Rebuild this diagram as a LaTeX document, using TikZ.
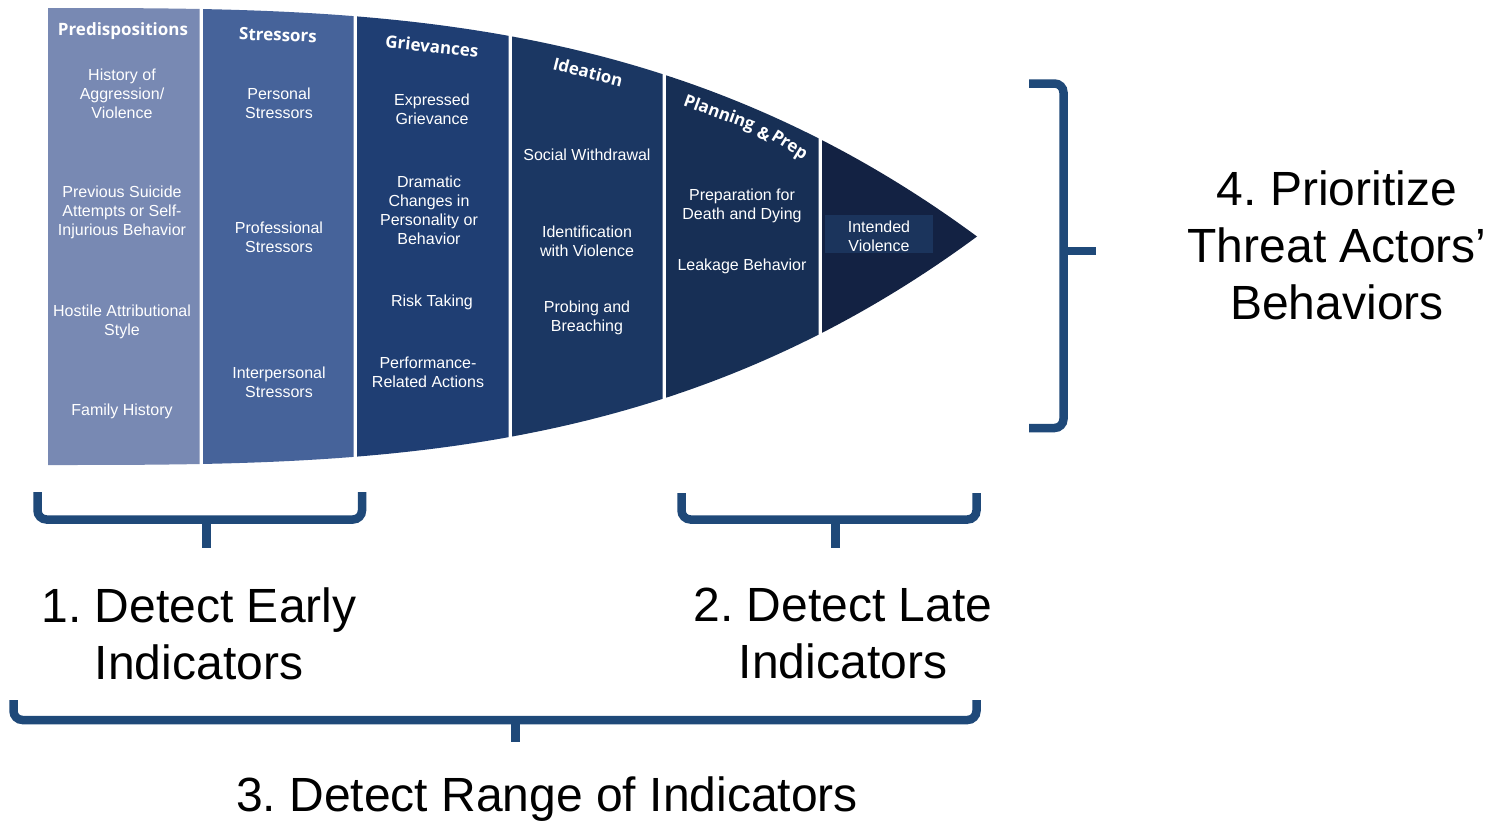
\documentclass[tikz,border=0pt]{standalone}
\usepackage{fontspec}
\setmainfont{Liberation Sans}
\newfontfamily\hdrfont{Open Sans}
\frenchspacing
\definecolor{cA}{HTML}{7889B3}
\definecolor{cB}{HTML}{46639A}
\definecolor{cC}{HTML}{1F3E73}
\definecolor{cD}{HTML}{1B3763}
\definecolor{cE}{HTML}{172F55}
\definecolor{cF}{HTML}{132243}
\definecolor{ivbox}{HTML}{1B345C}
\definecolor{bracec}{HTML}{1F4979}
\tikzset{
  body/.style={text=white, align=center, inner sep=0pt, font=\fontsize{16}{19}\selectfont},
  hdr/.style={text=white, inner sep=0pt, font=\hdrfont\bfseries\fontsize{17}{19}\selectfont},
  big/.style={text=black, align=center, inner sep=0pt, font=\fontsize{48}{57}\selectfont},
  bracestyle/.style={draw=bracec, line width=8.5pt, rounded corners=9pt},
  stem/.style={draw=bracec, line width=8.5pt}
}
\begin{document}
\begin{tikzpicture}[x=1pt,y=-1pt]
\useasboundingbox[fill=white] (0,0) rectangle (1486,825);
% columns of the bullet shape
\foreach \xa/\xb/\cc in {48/199.5/cA, 203/353.5/cB, 357/508.5/cC, 512/662.5/cD, 666/818.5/cE, 822/980/cF}{
  \begin{scope}
    \clip (\xa,0) rectangle (\xb,500);
    \fill[\cc] (48,8) .. controls (357.7,8) and (667.3,8) .. (977,236.5)
       .. controls (667.3,465) and (357.7,465) .. (48,465) -- cycle;
  \end{scope}
}
\fill[ivbox] (825,215) rectangle (933,253);
% headers
\node[hdr] (h1) at (123,31) {Predispositions};
\node[hdr, rotate=-2] (h2) at (278,35) {Stressors};
\node[hdr, rotate=-6] (h3) at (432,46) {Grievances};
\node[hdr, rotate=-14] (h4) at (588,72) {Ideation};
\node[hdr, rotate=-20] (h5a) at (719,114) {Planning};
\node[hdr, rotate=-27] (h5b) at (764,134) {\&};
\node[hdr, rotate=-32] (h5c) at (789,146) {Prep};
% column 1
\begin{scope}[yshift=-1.5pt]
\node[body] (a1) at (122,92) {History of\\Aggression/\\Violence};
\node[body] (a2) at (122,211) {Previous Suicide\\Attempts or Self-\\Injurious Behavior};
\node[body] (a3) at (122,320) {Hostile Attributional\\Style};
\node[body] (a4) at (122,410) {Family History};
% column 2
\node[body] (b1) at (279,101.5) {Personal\\Stressors};
\node[body] (b2) at (279,235.5) {Professional\\Stressors};
\node[body] (b3) at (279,380.5) {Interpersonal\\Stressors};
% column 3
\node[body] (c1) at (432,107.5) {Expressed\\Grievance};
\node[body] (c2) at (429,209) {Dramatic\\Changes in\\Personality or\\Behavior};
\node[body] (c3) at (432,301) {Risk Taking};
\node[body] (c4) at (428,371) {Performance-\\Related Actions};
% column 4
\node[body] (d1) at (587,153) {Social Withdrawal};
\node[body] (d2) at (587,239.5) {Identification\\with Violence};
\node[body] (d3) at (587,316.5) {Probing and\\Breaching};
% column 5
\node[body] (e1) at (742,204.5) {Preparation for\\Death and Dying};
\node[body] (e2) at (742,265) {Leakage Behavior};
% column 6
\node[body] (f1) at (879,234.5) {Intended\\Violence};
\end{scope}
% braces
\draw[bracestyle] (37.5,492) -- (37.5,519.5) -- (362,519.5) -- (362,492);
\draw[stem] (206.5,519.5) -- (206.5,548);
\draw[bracestyle] (681.5,493) -- (681.5,519.5) -- (976.5,519.5) -- (976.5,493);
\draw[stem] (835.5,519.5) -- (835.5,548);
\draw[bracestyle] (13.5,700) -- (13.5,720) -- (976.5,720) -- (976.5,700);
\draw[stem] (515.5,720) -- (515.5,742);
\draw[bracestyle] (1029,83.5) -- (1063.5,83.5) -- (1063.5,428) -- (1029,428);
\draw[stem] (1063.5,251) -- (1096,251);
% big labels
\node[big] (t4) at (1337,245) {4. Prioritize\\Threat Actors’\\Behaviors};
\node[big] (t1) at (199,633.5) {1. Detect Early\\Indicators};
\node[big] (t2) at (843,633.5) {2. Detect Late\\Indicators};
\node[big] (t3) at (547,799) {3. Detect Range of Indicators};
\end{tikzpicture}
\end{document}
